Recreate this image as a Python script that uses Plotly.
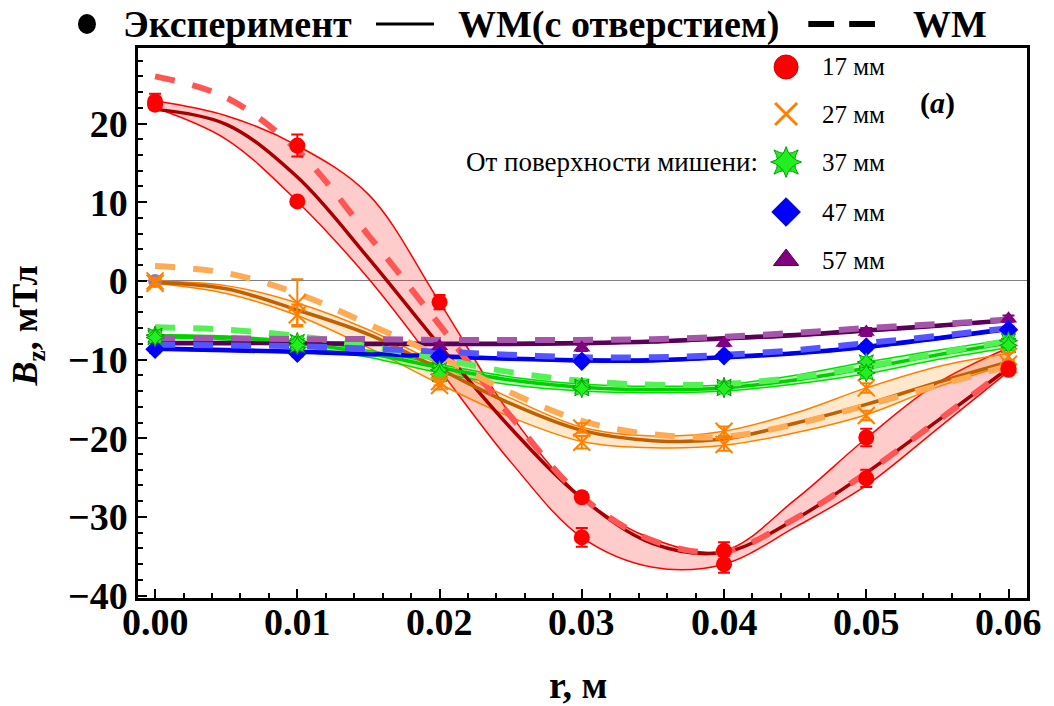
import plotly.graph_objects as go

FONT = "Liberation Serif"

# radial positions (m)
r_grid = [0.0, 0.005, 0.01, 0.015, 0.02, 0.025, 0.03, 0.035, 0.04, 0.045, 0.05, 0.055, 0.06]
r_exp = [0.0, 0.01, 0.02, 0.03, 0.04, 0.05, 0.06]

# ---- 17 mm ----
bz17_hole = [21.8, 19.9, 13.2, 2.9, -8.2, -18.7, -27.6, -33.4, -34.5, -30.3, -24.4, -17.8, -11.1]
bz17_wm = [26.0, 23.3, 16.6, 5.8, -5.6, -17.2, -27.4, -33.0, -34.4, -30.2, -24.4, -17.8, -11.1]
bz17_hi = [22.9, 21.0, 17.2, 11.0, -2.7, -17.0, -27.5, -32.8, -34.3, -27.8, -20.0, -13.0, -8.5]
bz17_lo = [22.0, 18.0, 10.1, 0.3, -11.3, -23.0, -32.6, -36.4, -36.0, -31.3, -26.0, -18.8, -11.5]
r17_a = [0.0, 0.01, 0.02, 0.03, 0.04, 0.05, 0.06]
bz17_a = [22.8, 17.2, -2.7, -27.5, -34.3, -19.9, -11.1]
err17_a = [1.0, 1.4, 0.9, 0.6, 1.1, 1.1, 0.5]
r17_b = [0.0, 0.01, 0.03, 0.04, 0.05, 0.06]
bz17_b = [22.4, 10.1, -32.6, -36.0, -25.1, -11.3]
err17_b = [0.5, 0.4, 1.2, 1.1, 1.1, 0.5]

# ---- 27 mm ----
bz27_hole = [-0.2, -1.0, -3.7, -6.8, -11.2, -15.6, -19.0, -20.3, -20.1, -18.1, -15.7, -12.9, -10.3]
bz27_wm = [1.9, 1.0, -1.6, -5.5, -9.6, -14.2, -17.8, -19.5, -19.8, -18.2, -15.8, -13.3, -10.8]
bz27_hi = [0.0, -0.6, -2.8, -6.2, -10.6, -14.9, -18.6, -19.7, -19.1, -16.8, -13.6, -10.9, -9.2]
bz27_lo = [-0.3, -1.6, -4.4, -8.5, -13.1, -17.3, -20.4, -21.2, -20.9, -19.3, -17.0, -13.5, -10.6]
bz27_a = [0.0, -2.8, -12.8, -18.7, -19.1, -13.6, -9.6]
err27_a = [0.4, 3.0, 0.5, 0.6, 0.6, 0.6, 0.5]
bz27_b = [-0.3, -4.3, -13.3, -20.5, -20.8, -17.1, -10.6]
err27_b = [0.4, 1.3, 0.5, 0.8, 0.8, 0.6, 0.5]
r_center = [0.0]
bz_center = [0.0]

# ---- 37 mm ----
bz37_hole = [-7.0, -7.2, -7.9, -9.2, -11.0, -12.6, -13.5, -13.8, -13.6, -12.6, -11.1, -9.4, -7.9]
bz37_wm = [-5.9, -6.2, -7.0, -8.3, -9.9, -11.6, -12.7, -13.2, -13.1, -12.3, -10.9, -9.2, -7.6]
bz37_hi = [-6.8, -7.0, -7.6, -8.8, -10.6, -12.2, -13.1, -13.4, -13.2, -12.0, -10.3, -8.8, -7.4]
bz37_lo = [-7.3, -7.5, -8.3, -9.7, -11.7, -13.2, -14.0, -14.2, -14.0, -13.1, -11.8, -10.0, -8.5]
bz37_a = [-6.9, -7.7, -11.3, -13.4, -13.4, -10.3, -7.6]
bz37_b = [-7.2, -8.2, -11.9, -13.7, -13.7, -11.7, -8.2]
err37 = [0.4, 0.4, 0.5, 0.5, 0.5, 0.5, 0.5]

# ---- 47 mm ----
bz47_hole = [-8.6, -8.8, -9.0, -9.3, -9.6, -9.9, -10.1, -10.1, -9.7, -9.2, -8.4, -7.3, -6.1]
bz47_wm = [-8.1, -8.2, -8.3, -8.6, -9.0, -9.4, -9.7, -9.7, -9.4, -8.8, -7.9, -7.0, -6.0]
bz47_hi = [-8.4, -8.6, -8.8, -9.1, -9.4, -9.7, -9.9, -9.9, -9.5, -9.0, -8.2, -7.1, -5.9]
bz47_lo = [-8.8, -9.0, -9.2, -9.5, -9.8, -10.1, -10.3, -10.3, -9.9, -9.4, -8.6, -7.5, -6.3]
bz47_a = [-8.7, -9.2, -9.6, -10.2, -9.5, -8.4, -6.2]
err47 = [0.4, 0.4, 0.4, 0.4, 0.4, 0.4, 0.4]

# ---- 57 mm ----
bz57_hole = [-7.9, -7.9, -7.9, -8.0, -8.0, -8.0, -7.9, -7.7, -7.3, -6.9, -6.3, -5.7, -5.0]
bz57_wm = [-7.3, -7.3, -7.4, -7.4, -7.5, -7.5, -7.5, -7.4, -7.1, -6.6, -6.0, -5.5, -4.9]
bz57_hi = [-7.7, -7.7, -7.7, -7.8, -7.8, -7.8, -7.7, -7.5, -7.1, -6.7, -6.1, -5.5, -4.8]
bz57_lo = [-8.1, -8.1, -8.1, -8.2, -8.2, -8.2, -8.1, -7.9, -7.5, -7.1, -6.5, -5.9, -5.2]
bz57_a = [-8.3, -8.2, -8.3, -8.5, -7.9, -6.5, -4.8]
err57 = [0.4, 0.4, 0.4, 0.4, 0.4, 0.5, 0.4]

x_ticks = [0.0, 0.01, 0.02, 0.03, 0.04, 0.05, 0.06]
x_ticktext = ["0.00", "0.01", "0.02", "0.03", "0.04", "0.05", "0.06"]
y_ticks = [-40, -30, -20, -10, 0, 10, 20]
y_ticktext = ["\u221240", "\u221230", "\u221220", "\u221210", "0", "10", "20"]
legend_labels = ["17 мм", "27 мм", "37 мм", "47 мм", "57 мм"]

series = [
    dict(hole=bz17_hole, wm=bz17_wm, hi=bz17_hi, lo=bz17_lo,
         edge="#FF0000", fill="rgba(255,0,0,0.2)", solid="#A80000", dash="#FF5555"),
    dict(hole=bz27_hole, wm=bz27_wm, hi=bz27_hi, lo=bz27_lo,
         edge="#FF8000", fill="rgba(255,140,0,0.2)", solid="#C06000", dash="#FFAA55"),
    dict(hole=bz37_hole, wm=bz37_wm, hi=bz37_hi, lo=bz37_lo,
         edge="#00E000", fill="rgba(0,230,0,0.25)", solid="#00D000", dash="#55F055"),
    dict(hole=bz47_hole, wm=bz47_wm, hi=bz47_hi, lo=bz47_lo,
         edge="#0000FF", fill="rgba(0,0,255,0.2)", solid="#0000F0", dash="#5555FF"),
    dict(hole=bz57_hole, wm=bz57_wm, hi=bz57_hi, lo=bz57_lo,
         edge="#5A005A", fill="rgba(120,0,120,0.2)", solid="#5A005A", dash="#A555AA"),
]

fig = go.Figure()

# spread bands between the two measurement runs
for s in series:
    fig.add_trace(go.Scatter(x=r_grid, y=s["lo"], mode="lines",
                             line=dict(color=s["edge"], width=1.5, shape="spline"),
                             hoverinfo="skip", showlegend=False))
    fig.add_trace(go.Scatter(x=r_grid, y=s["hi"], mode="lines", fill="tonexty",
                             fillcolor=s["fill"],
                             line=dict(color=s["edge"], width=1.5, shape="spline"),
                             hoverinfo="skip", showlegend=False))

# model with the hole (solid) and plain model (dashed)
for s in series:
    fig.add_trace(go.Scatter(x=r_grid, y=s["hole"], mode="lines",
                             line=dict(color=s["solid"], width=3.5, shape="spline"),
                             showlegend=False))
for s in series:
    fig.add_trace(go.Scatter(x=r_grid, y=s["wm"], mode="lines",
                             line=dict(color=s["dash"], width=6, shape="spline", dash="20px,18px"),
                             showlegend=False))


def exp_points(x, y, err, color, symbol, size, line_color=None, line_width=0):
    fig.add_trace(go.Scatter(
        x=x, y=y, mode="markers",
        marker=dict(symbol=symbol, size=size, color=color,
                    line=dict(color=line_color or color, width=line_width)),
        error_y=dict(type="data", array=err, color=color, thickness=2, width=6),
        showlegend=False))


# measurements
exp_points(r_exp, bz57_a, err57, "#800080", "triangle-up", 15)
exp_points(r_exp, bz47_a, err47, "#0000FF", "diamond", 15)
for sym in ("star-square", "star-diamond"):
    exp_points(r_exp, bz37_a, err37, "#22EE22", sym, 13, "#00A000", 1)
    exp_points(r_exp, bz37_b, err37, "#22EE22", sym, 13, "#00A000", 1)
fig.add_trace(go.Scatter(x=r_center, y=bz_center, mode="markers",
                         marker=dict(symbol="circle", size=14, color="#8A7DBA"),
                         showlegend=False))
exp_points(r_exp, bz27_a, err27_a, "#FF8000", "x-thin-open", 17, "#FF8000", 2)
exp_points(r_exp, bz27_b, err27_b, "#FF8000", "x-thin-open", 17, "#FF8000", 2)
exp_points(r17_a, bz17_a, err17_a, "#FF0000", "circle", 16)
exp_points(r17_b, bz17_b, err17_b, "#FF0000", "circle", 16)

# inset key for the distances from the target surface
key_x = [0.729] * 5
key_y = [0.9655, 0.880, 0.7927, 0.7018, 0.6145]
key_styles = [
    dict(symbol="circle", size=24, color="#FF0000", line=dict(color="#D00000", width=1)),
    dict(symbol="x-thin-open", size=22, color="#FF8000", line=dict(color="#FF8000", width=3)),
    dict(symbol="star-square", size=22, color="#22EE22", line=dict(color="#00A000", width=1)),
    dict(symbol="diamond", size=22, color="#0000FF", line=dict(color="#0000A0", width=1)),
    dict(symbol="triangle-up", size=22, color="#800080", line=dict(color="#500050", width=1)),
]
for i, st in enumerate(key_styles):
    fig.add_trace(go.Scatter(x=[key_x[i]], y=[key_y[i]], mode="markers", marker=st,
                             xaxis="x2", yaxis="y2", showlegend=False, hoverinfo="skip"))
fig.add_trace(go.Scatter(x=[key_x[2]], y=[key_y[2]], mode="markers",
                         marker=dict(symbol="star-diamond", size=22, color="#22EE22",
                                     line=dict(color="#00A000", width=1)),
                         xaxis="x2", yaxis="y2", showlegend=False, hoverinfo="skip"))

annotations = []
for i, lab in enumerate(legend_labels):
    annotations.append(dict(x=0.767, y=key_y[i], xref="paper", yref="paper", text=lab,
                            showarrow=False, xanchor="left", yanchor="middle",
                            font=dict(family=FONT, size=25, color="black")))
annotations.append(dict(x=0.6997, y=key_y[2], xref="paper", yref="paper",
                        text="От поверхности мишени:", showarrow=False,
                        xanchor="right", yanchor="middle",
                        font=dict(family=FONT, size=27, color="black")))
annotations.append(dict(x=0.8988, y=0.90, xref="paper", yref="paper",
                        text="<b>(<i>a</i>)</b>", showarrow=False,
                        xanchor="center", yanchor="middle",
                        font=dict(family=FONT, size=30, color="black")))

# x tick labels, set close under the frame
for tv, tt in zip(x_ticks, x_ticktext):
    annotations.append(dict(x=tv, y=-0.044, xref="x", yref="paper", text="<b>" + tt + "</b>",
                            showarrow=False, xanchor="center", yanchor="middle",
                            font=dict(family=FONT, size=38, color="black")))

# top legend
ly = 1.0436
top_font = dict(family=FONT, size=38, color="black")
annotations += [
    dict(x=-0.0191, y=ly, xref="paper", yref="paper", text="<b>Эксперимент</b>",
         showarrow=False, xanchor="left", yanchor="middle", font=top_font),
    dict(x=0.358, y=ly, xref="paper", yref="paper", text="<b>WM(с отверстием)</b>",
         showarrow=False, xanchor="left", yanchor="middle", font=top_font),
    dict(x=0.8695, y=ly, xref="paper", yref="paper", text="<b>WM</b>",
         showarrow=False, xanchor="left", yanchor="middle", font=top_font),
]

# axis titles
annotations += [
    dict(x=0.495, y=-0.158, xref="paper", yref="paper", text="<b>r, м</b>",
         showarrow=False, xanchor="center", yanchor="middle",
         font=dict(family=FONT, size=38, color="black")),
    dict(x=-0.124, y=0.495, xref="paper", yref="paper",
         text="<b><i>B</i><sub>z</sub>, мТл</b>", textangle=-90,
         showarrow=False, xanchor="center", yanchor="middle",
         font=dict(family=FONT, size=36, color="black")),
]

shapes = [
    dict(type="circle", xref="paper", yref="paper", xsizemode="pixel", ysizemode="pixel",
         xanchor=-0.0574, yanchor=ly, x0=-9, x1=9, y0=-10, y1=10,
         fillcolor="black", line=dict(color="black", width=0)),
    dict(type="line", xref="paper", yref="paper", x0=0.2677, x1=0.333, y0=ly, y1=ly,
         line=dict(color="black", width=3)),
    dict(type="line", xref="paper", yref="paper", x0=0.754, x1=0.783, y0=ly, y1=ly,
         line=dict(color="black", width=6)),
    dict(type="line", xref="paper", yref="paper", x0=0.800, x1=0.829, y0=ly, y1=ly,
         line=dict(color="black", width=6)),
]

tick_font = dict(family=FONT, size=38, color="black", weight="bold")

fig.update_layout(
    width=1054, height=706,
    margin=dict(l=138, r=27, t=48, b=108),
    paper_bgcolor="white", plot_bgcolor="white",
    showlegend=False,
    annotations=annotations,
    shapes=shapes,
    xaxis=dict(range=[-0.0012, 0.0613], tickvals=x_ticks, showticklabels=False,
               ticks="inside", ticklen=9, tickwidth=2, tickcolor="black",
               minor=dict(dtick=0.002, tick0=0, ticks="inside", ticklen=5, tickwidth=1.5,
                          tickcolor="black"),
               showline=True, linecolor="black", linewidth=2.5, mirror=True,
               showgrid=False, zeroline=False),
    yaxis=dict(range=[-40.3, 29.6], tickvals=y_ticks, ticktext=y_ticktext,
               tickfont=tick_font, ticks="inside", ticklen=9, tickwidth=2, tickcolor="black",
               minor=dict(dtick=2, tick0=0, ticks="inside", ticklen=5, tickwidth=1.5,
                          tickcolor="black"),
               showline=True, linecolor="black", linewidth=2.5, mirror=True,
               showgrid=False, zeroline=True, zerolinecolor="#808080", zerolinewidth=1),
    xaxis2=dict(overlaying="x", anchor="y2", range=[0, 1], visible=False),
    yaxis2=dict(overlaying="y", anchor="x2", range=[0, 1], visible=False),
)

fig.write_html("out.html")
